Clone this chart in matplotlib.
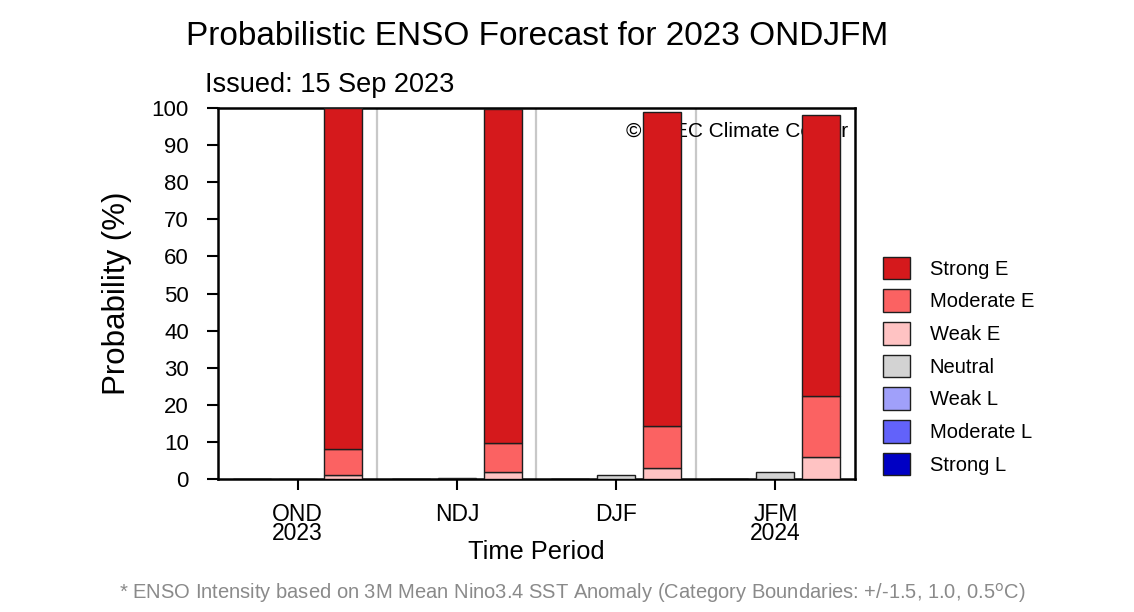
import matplotlib
matplotlib.use("Agg")
import matplotlib.pyplot as plt
import numpy as np

plt.rcParams['font.family'] = ['Liberation Sans', 'DejaVu Sans']

periods = ['OND\n2023', 'NDJ', 'DJF', 'JFM\n2024']
strong_l = [0.0, 0.0, 0.0, 0.0]
moderate_l = [0.0, 0.0, 0.0, 0.0]
weak_l = [0.0, 0.0, 0.0, 0.0]
neutral = [0.0, 0.3, 1.0, 2.0]
weak_e = [1.0, 2.0, 3.0, 6.0]
moderate_e = [7.0, 7.7, 11.2, 16.5]
strong_e = [92.0, 90.0, 84.8, 75.5]

c_se, c_me, c_we = '#D5191C', '#FB6262', '#FFC3C3'
c_n = '#D3D3D3'
c_wl, c_ml, c_sl = '#A0A0FA', '#6262FA', '#0000C4'

fig = plt.figure(figsize=(11.34, 6.12), dpi=100)
ax = fig.add_axes([0.1922, 0.2173, 0.5617, 0.6062])

x = np.arange(len(periods))
w = 0.239
off = 0.288
ekw = dict(edgecolor='#1E1E1E', linewidth=1.0, zorder=3)

# La Nina bar (left)
b = np.zeros(4)
h_wl = ax.bar(x - off, weak_l, w, bottom=b, color=c_wl, label='Weak L', **ekw); b += weak_l
h_ml = ax.bar(x - off, moderate_l, w, bottom=b, color=c_ml, label='Moderate L', **ekw); b += moderate_l
h_sl = ax.bar(x - off, strong_l, w, bottom=b, color=c_sl, label='Strong L', **ekw)
# Neutral (middle)
h_n = ax.bar(x, neutral, w, color=c_n, label='Neutral', **ekw)
# El Nino bar (right)
b = np.zeros(4)
h_we = ax.bar(x + off, weak_e, w, bottom=b, color=c_we, label='Weak E', **ekw); b += weak_e
h_me = ax.bar(x + off, moderate_e, w, bottom=b, color=c_me, label='Moderate E', **ekw); b += moderate_e
h_se = ax.bar(x + off, strong_e, w, bottom=b, color=c_se, label='Strong E', **ekw)

for s in [0.5, 1.5, 2.5]:
    ax.axvline(s, color='#C8C8C8', lw=1.6, zorder=1)

ax.text(0.990, 93.8, '© APEC Climate Center', transform=ax.get_yaxis_transform(),
        ha='right', va='center', fontsize=15, zorder=1)

ax.set_xlim(-0.5, 3.5)
ax.set_ylim(0, 100)
ax.set_yticks(np.arange(0, 101, 10))
ax.set_xticks(x)
ax.set_xticklabels(periods, fontsize=16.5, linespacing=0.78)
ax.tick_params(axis='y', labelsize=16, direction='out', length=8, width=1.5, pad=13)
ax.tick_params(axis='x', direction='out', length=8, width=1.5, pad=9)
for sp in ax.spines.values():
    sp.set_linewidth(1.8)

ax.set_ylabel('Probability (%)', fontsize=22.5, labelpad=14)
ax.set_xlabel('Time Period', fontsize=18.3, labelpad=-3)

fig.text(0.474, 0.94, 'Probabilistic ENSO Forecast for 2023 ONDJFM', ha='center', va='center', fontsize=24)
fig.text(0.181, 0.861, 'Issued: 15 Sep 2023', ha='left', va='center', fontsize=19.5)
fig.text(0.505, 0.031, '* ENSO Intensity based on 3M Mean Nino3.4 SST Anomaly (Category Boundaries: +/-1.5, 1.0, 0.5$^{\\mathrm{o}}$C)',
         ha='center', va='center', fontsize=14.5, color='#8A8A8A')

handles = [h_se, h_me, h_we, h_n, h_wl, h_ml, h_sl]
labels = ['Strong E', 'Moderate E', 'Weak E', 'Neutral', 'Weak L', 'Moderate L', 'Strong L']
leg = fig.legend(handles, labels, loc='center left', bbox_to_anchor=(0.763, 0.402),
                 frameon=False, fontsize=14.5, handlelength=1.3, handleheight=1.35,
                 labelspacing=0.5, handletextpad=1.0)

fig.savefig('out.png', dpi=100)
